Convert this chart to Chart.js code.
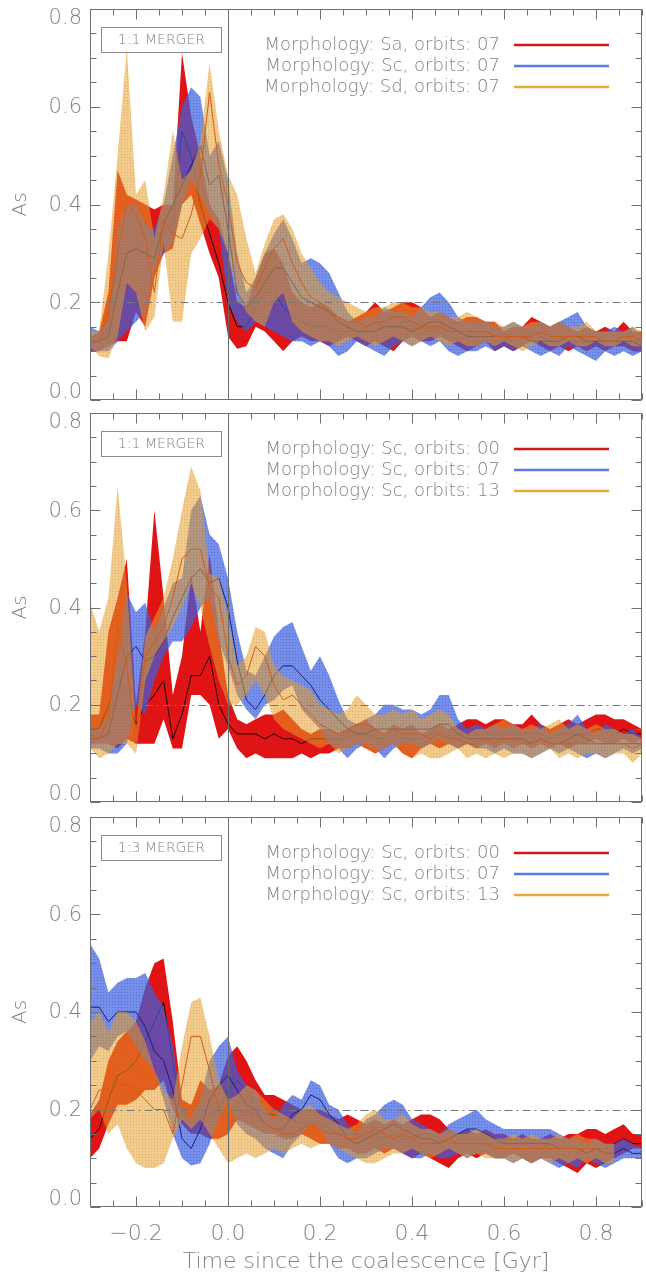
<!DOCTYPE html>
<html><head><meta charset="utf-8">
<script src="https://cdn.jsdelivr.net/npm/chart.js@4.4.0/dist/chart.umd.min.js"></script>
<style>
html,body{margin:0;padding:0;background:#fff;}
#wrap{position:relative;width:646px;height:1274px;overflow:hidden;}
canvas{position:absolute;left:0;}
</style></head>
<body><div id="wrap">
<canvas id="c1" width="646" height="410" style="top:0px"></canvas>
<canvas id="c2" width="646" height="410" style="top:404px"></canvas>
<canvas id="c3" width="646" height="466" style="top:808px"></canvas>
</div>
<script>
// ---- categories (time since coalescence, Gyr) ----
const TIME = [-0.30,-0.28,-0.26,-0.24,-0.22,-0.20,-0.18,-0.16,-0.14,-0.12,-0.10,-0.08,-0.06,-0.04,-0.02,
0.00,0.02,0.04,0.06,0.08,0.10,0.12,0.14,0.16,0.18,0.20,0.22,0.24,0.26,0.28,0.30,0.32,0.34,0.36,0.38,
0.40,0.42,0.44,0.46,0.48,0.50,0.52,0.54,0.56,0.58,0.60,0.62,0.64,0.66,0.68,0.70,0.72,0.74,0.76,0.78,
0.80,0.82,0.84,0.86,0.88,0.90];

// ---- tick labels ----
const Y_TICKS = [0.0,0.2,0.4,0.6,0.8];
const Y_TICK_LABELS = ['0.0','0.2','0.4','0.6','0.8'];
const X_TICKS = [-0.2,0.0,0.2,0.4,0.6,0.8];
const X_TICK_LABELS = ['\u22120.2','0.0','0.2','0.4','0.6','0.8'];
const X_TITLE = 'Time since the coalescence [Gyr]';
const Y_TITLE = 'As';

// ---- panel texts ----
const P1_BOX = '1:1 MERGER';
const P2_BOX = '1:1 MERGER';
const P3_BOX = '1:3 MERGER';
const P1_NAMES = ['Morphology: Sa, orbits: 07','Morphology: Sc, orbits: 07','Morphology: Sd, orbits: 07'];
const P2_NAMES = ['Morphology: Sc, orbits: 00','Morphology: Sc, orbits: 07','Morphology: Sc, orbits: 13'];
const P3_NAMES = ['Morphology: Sc, orbits: 00','Morphology: Sc, orbits: 07','Morphology: Sc, orbits: 13'];

// ================= PANEL 1 =================
const p1RedHi = [0.13,0.14,0.22,0.47,0.42,0.41,0.40,0.39,0.40,0.40,
 0.71,0.58,0.50,0.40,0.37,0.30,0.20,0.19,0.25,0.30,
 0.31,0.28,0.22,0.20,0.19,0.20,0.19,0.17,0.16,0.17,
 0.18,0.20,0.18,0.19,0.20,0.20,0.19,0.17,0.18,0.17,
 0.16,0.17,0.17,0.16,0.16,0.14,0.15,0.15,0.17,0.16,
 0.15,0.16,0.15,0.14,0.15,0.14,0.15,0.14,0.16,0.14,0.14];
const p1RedLo = [0.10,0.10,0.11,0.12,0.12,0.18,0.15,0.25,0.30,0.31,
 0.40,0.42,0.36,0.30,0.25,0.13,0.105,0.11,0.15,0.14,
 0.12,0.10,0.12,0.13,0.12,0.12,0.11,0.12,0.13,0.12,
 0.11,0.12,0.11,0.10,0.12,0.13,0.12,0.12,0.13,0.12,
 0.11,0.10,0.11,0.12,0.10,0.11,0.10,0.11,0.12,0.11,
 0.10,0.11,0.10,0.11,0.10,0.11,0.10,0.11,0.11,0.10,0.10];
const p1RedMed = [0.115,0.12,0.15,0.30,0.30,0.32,0.30,0.33,0.35,0.36,
 0.55,0.50,0.40,0.34,0.28,0.20,0.15,0.15,0.19,0.22,
 0.22,0.19,0.17,0.16,0.15,0.15,0.15,0.14,0.14,0.14,
 0.15,0.16,0.15,0.15,0.16,0.16,0.15,0.14,0.15,0.14,
 0.14,0.13,0.14,0.14,0.13,0.13,0.12,0.13,0.14,0.13,
 0.12,0.13,0.12,0.12,0.12,0.12,0.12,0.12,0.13,0.12,0.12];
const p1BlueHi = [0.15,0.14,0.16,0.35,0.40,0.40,0.36,0.35,0.40,0.50,
 0.60,0.64,0.62,0.50,0.53,0.45,0.30,0.22,0.25,0.30,
 0.34,0.37,0.33,0.28,0.29,0.28,0.26,0.22,0.18,0.16,
 0.17,0.17,0.19,0.18,0.18,0.17,0.19,0.21,0.22,0.20,
 0.17,0.16,0.16,0.16,0.15,0.15,0.16,0.15,0.15,0.16,
 0.15,0.16,0.17,0.18,0.15,0.14,0.14,0.15,0.14,0.15,0.13];
const p1BlueLo = [0.10,0.10,0.10,0.12,0.14,0.16,0.18,0.27,0.30,0.32,
 0.40,0.45,0.42,0.38,0.35,0.20,0.16,0.14,0.16,0.15,
 0.14,0.13,0.12,0.12,0.11,0.12,0.11,0.09,0.10,0.12,
 0.11,0.10,0.09,0.11,0.12,0.11,0.12,0.11,0.12,0.10,
 0.09,0.10,0.10,0.11,0.10,0.11,0.10,0.11,0.10,0.09,
 0.10,0.09,0.11,0.10,0.09,0.08,0.10,0.09,0.10,0.09,0.10];
const p1BlueMed = [0.12,0.12,0.13,0.22,0.30,0.31,0.30,0.29,0.36,0.40,
 0.44,0.48,0.52,0.44,0.46,0.35,0.22,0.19,0.21,0.24,
 0.27,0.27,0.24,0.21,0.20,0.19,0.18,0.16,0.15,0.14,
 0.14,0.14,0.15,0.15,0.15,0.14,0.15,0.16,0.16,0.15,
 0.14,0.13,0.13,0.13,0.13,0.13,0.13,0.13,0.12,0.12,
 0.12,0.12,0.13,0.13,0.12,0.12,0.12,0.12,0.12,0.12,0.11];
const p1OrangeHi = [0.14,0.14,0.30,0.50,0.72,0.42,0.45,0.33,0.42,0.55,
 0.45,0.47,0.53,0.69,0.55,0.46,0.42,0.33,0.26,0.32,
 0.37,0.38,0.35,0.30,0.27,0.24,0.22,0.21,0.20,0.19,
 0.18,0.19,0.19,0.20,0.20,0.19,0.19,0.18,0.18,0.17,
 0.17,0.18,0.17,0.16,0.16,0.15,0.16,0.15,0.16,0.16,
 0.15,0.16,0.15,0.15,0.16,0.14,0.14,0.14,0.14,0.15,0.14];
const p1OrangeLo = [0.11,0.09,0.085,0.13,0.24,0.22,0.14,0.17,0.32,0.16,
 0.16,0.30,0.33,0.37,0.35,0.30,0.22,0.18,0.16,0.15,
 0.20,0.22,0.16,0.14,0.13,0.12,0.12,0.11,0.12,0.13,
 0.12,0.11,0.12,0.13,0.12,0.11,0.12,0.13,0.12,0.11,
 0.12,0.11,0.11,0.12,0.11,0.12,0.11,0.10,0.11,0.12,
 0.11,0.11,0.12,0.11,0.11,0.12,0.11,0.11,0.12,0.11,0.11];
const p1OrangeMed = [0.12,0.12,0.18,0.30,0.40,0.38,0.33,0.22,0.37,0.34,
 0.33,0.38,0.46,0.63,0.48,0.40,0.28,0.24,0.23,0.27,
 0.31,0.33,0.28,0.24,0.21,0.20,0.18,0.17,0.16,0.16,
 0.15,0.16,0.16,0.17,0.17,0.16,0.15,0.15,0.15,0.14,
 0.14,0.14,0.14,0.14,0.13,0.13,0.13,0.13,0.13,0.14,
 0.13,0.13,0.13,0.13,0.13,0.13,0.12,0.12,0.13,0.13,0.12];

// ================= PANEL 2 =================
const p2RedHi = [0.18,0.18,0.35,0.42,0.50,0.20,0.35,0.60,0.42,0.22,
 0.30,0.47,0.35,0.51,0.35,0.22,0.17,0.16,0.17,0.18,
 0.18,0.19,0.17,0.15,0.14,0.15,0.15,0.14,0.15,0.16,
 0.17,0.15,0.14,0.16,0.15,0.16,0.14,0.15,0.16,0.15,
 0.16,0.17,0.17,0.16,0.17,0.17,0.16,0.16,0.18,0.16,
 0.15,0.16,0.17,0.16,0.17,0.18,0.18,0.17,0.17,0.16,0.15];
const p2RedLo = [0.12,0.12,0.12,0.11,0.13,0.12,0.12,0.12,0.17,0.11,
 0.11,0.22,0.22,0.20,0.13,0.15,0.11,0.09,0.10,0.09,
 0.09,0.09,0.09,0.10,0.09,0.10,0.10,0.11,0.11,0.12,
 0.11,0.10,0.11,0.12,0.10,0.09,0.11,0.12,0.11,0.12,
 0.11,0.12,0.11,0.12,0.11,0.12,0.11,0.12,0.11,0.12,
 0.11,0.12,0.11,0.12,0.12,0.13,0.12,0.12,0.13,0.12,0.13];
const p2RedMed = [0.15,0.15,0.20,0.25,0.22,0.16,0.20,0.22,0.25,0.13,
 0.18,0.26,0.26,0.30,0.20,0.16,0.14,0.14,0.14,0.13,
 0.14,0.13,0.13,0.12,0.13,0.13,0.13,0.13,0.13,0.14,
 0.14,0.13,0.13,0.14,0.13,0.13,0.13,0.14,0.14,0.13,
 0.14,0.14,0.14,0.14,0.14,0.14,0.14,0.14,0.14,0.14,
 0.13,0.14,0.14,0.14,0.14,0.15,0.15,0.14,0.15,0.14,0.14];
const p2BlueHi = [0.15,0.15,0.18,0.30,0.43,0.39,0.41,0.35,0.40,0.45,
 0.46,0.60,0.63,0.55,0.53,0.46,0.35,0.27,0.26,0.30,
 0.34,0.36,0.37,0.32,0.27,0.30,0.26,0.21,0.17,0.16,
 0.17,0.18,0.20,0.20,0.19,0.19,0.18,0.19,0.22,0.22,
 0.17,0.15,0.16,0.15,0.16,0.15,0.16,0.15,0.15,0.16,
 0.14,0.15,0.16,0.18,0.15,0.14,0.16,0.15,0.14,0.15,0.13];
const p2BlueLo = [0.11,0.11,0.10,0.10,0.12,0.20,0.18,0.25,0.30,0.33,
 0.33,0.36,0.40,0.42,0.33,0.28,0.22,0.19,0.17,0.20,
 0.21,0.23,0.24,0.19,0.17,0.15,0.12,0.11,0.09,0.11,
 0.12,0.11,0.09,0.11,0.12,0.12,0.11,0.12,0.13,0.12,
 0.11,0.12,0.11,0.11,0.10,0.11,0.10,0.10,0.09,0.10,
 0.11,0.10,0.11,0.10,0.09,0.10,0.09,0.10,0.11,0.10,0.11];
const p2BlueMed = [0.13,0.13,0.14,0.22,0.30,0.32,0.29,0.30,0.33,0.38,
 0.42,0.46,0.48,0.45,0.46,0.40,0.29,0.21,0.19,0.22,
 0.26,0.28,0.28,0.26,0.24,0.21,0.19,0.17,0.15,0.14,
 0.14,0.15,0.15,0.15,0.15,0.15,0.15,0.15,0.16,0.16,
 0.14,0.13,0.13,0.13,0.13,0.13,0.13,0.13,0.12,0.13,
 0.12,0.12,0.13,0.14,0.13,0.12,0.12,0.12,0.12,0.12,0.12];
const p2OrangeHi = [0.41,0.35,0.42,0.65,0.45,0.15,0.34,0.38,0.42,0.50,
 0.60,0.69,0.64,0.47,0.46,0.38,0.28,0.30,0.36,0.35,
 0.28,0.26,0.25,0.24,0.23,0.20,0.19,0.18,0.19,0.22,
 0.20,0.18,0.18,0.19,0.18,0.19,0.17,0.18,0.19,0.18,
 0.15,0.14,0.15,0.15,0.16,0.17,0.16,0.15,0.16,0.15,
 0.16,0.17,0.15,0.16,0.15,0.16,0.15,0.15,0.14,0.14,0.13];
const p2OrangeLo = [0.11,0.09,0.10,0.12,0.12,0.10,0.25,0.30,0.33,0.36,
 0.40,0.45,0.40,0.32,0.25,0.20,0.20,0.22,0.25,0.22,
 0.17,0.15,0.14,0.13,0.12,0.11,0.12,0.10,0.11,0.12,
 0.11,0.10,0.11,0.12,0.10,0.09,0.10,0.09,0.09,0.10,
 0.11,0.09,0.10,0.09,0.10,0.09,0.10,0.10,0.09,0.10,
 0.11,0.09,0.10,0.09,0.10,0.10,0.09,0.10,0.10,0.08,0.10];
const p2OrangeMed = [0.14,0.13,0.17,0.36,0.28,0.12,0.30,0.33,0.36,0.42,
 0.50,0.52,0.52,0.44,0.42,0.30,0.24,0.26,0.32,0.30,
 0.24,0.21,0.22,0.20,0.18,0.16,0.15,0.14,0.15,0.16,
 0.16,0.15,0.14,0.15,0.14,0.14,0.14,0.13,0.14,0.13,
 0.13,0.12,0.12,0.13,0.12,0.13,0.13,0.12,0.12,0.13,
 0.12,0.12,0.12,0.12,0.12,0.12,0.12,0.12,0.12,0.11,0.12];

// ================= PANEL 3 =================
const p3RedHi = [0.19,0.22,0.30,0.34,0.36,0.38,0.45,0.50,0.51,0.38,
 0.22,0.21,0.26,0.24,0.25,0.31,0.33,0.30,0.26,0.23,
 0.23,0.22,0.21,0.20,0.20,0.20,0.19,0.18,0.19,0.18,
 0.17,0.18,0.17,0.18,0.17,0.18,0.19,0.19,0.18,0.16,
 0.15,0.16,0.15,0.16,0.15,0.15,0.14,0.15,0.14,0.14,
 0.15,0.14,0.15,0.15,0.16,0.16,0.15,0.16,0.17,0.15,0.15];
const p3RedLo = [0.10,0.12,0.17,0.21,0.21,0.22,0.24,0.24,0.26,0.20,
 0.17,0.15,0.15,0.14,0.14,0.15,0.18,0.17,0.16,0.15,
 0.15,0.14,0.14,0.15,0.14,0.13,0.13,0.12,0.12,0.11,
 0.11,0.12,0.11,0.12,0.11,0.10,0.11,0.10,0.09,0.08,
 0.10,0.11,0.10,0.11,0.10,0.10,0.11,0.10,0.09,0.10,
 0.10,0.09,0.08,0.07,0.09,0.08,0.09,0.10,0.11,0.12,0.12];
const p3RedMed = [0.14,0.16,0.22,0.27,0.28,0.30,0.34,0.38,0.42,0.30,
 0.19,0.17,0.20,0.19,0.20,0.24,0.26,0.24,0.21,0.19,
 0.19,0.18,0.18,0.17,0.17,0.17,0.16,0.15,0.15,0.15,
 0.14,0.15,0.14,0.15,0.14,0.14,0.15,0.15,0.14,0.13,
 0.13,0.13,0.13,0.13,0.13,0.13,0.13,0.13,0.12,0.12,
 0.13,0.12,0.12,0.12,0.12,0.12,0.12,0.13,0.14,0.13,0.13];
const p3BlueHi = [0.54,0.51,0.44,0.46,0.47,0.47,0.48,0.44,0.41,0.33,
 0.20,0.18,0.22,0.30,0.33,0.35,0.28,0.25,0.24,0.20,
 0.18,0.21,0.23,0.22,0.26,0.25,0.21,0.20,0.17,0.15,
 0.18,0.19,0.21,0.22,0.21,0.18,0.17,0.16,0.15,0.17,
 0.18,0.19,0.20,0.18,0.17,0.16,0.16,0.16,0.16,0.16,
 0.16,0.15,0.14,0.14,0.13,0.14,0.13,0.13,0.14,0.13,0.12];
const p3BlueLo = [0.30,0.33,0.32,0.35,0.36,0.33,0.30,0.28,0.22,0.15,
 0.10,0.085,0.09,0.13,0.18,0.22,0.17,0.15,0.14,0.12,
 0.11,0.10,0.13,0.15,0.17,0.16,0.13,0.10,0.09,0.10,
 0.10,0.11,0.12,0.12,0.11,0.10,0.10,0.11,0.10,0.10,
 0.11,0.10,0.11,0.11,0.10,0.10,0.09,0.10,0.09,0.10,
 0.09,0.08,0.09,0.08,0.10,0.09,0.08,0.09,0.10,0.10,0.10];
const p3BlueMed = [0.41,0.41,0.38,0.40,0.40,0.40,0.37,0.32,0.30,0.24,
 0.14,0.12,0.16,0.22,0.25,0.27,0.24,0.21,0.20,0.17,
 0.16,0.16,0.19,0.20,0.23,0.22,0.19,0.17,0.14,0.13,
 0.14,0.15,0.16,0.17,0.16,0.15,0.14,0.14,0.13,0.14,
 0.15,0.16,0.16,0.15,0.14,0.13,0.13,0.13,0.13,0.13,
 0.13,0.12,0.12,0.12,0.11,0.12,0.11,0.11,0.12,0.11,0.11];
const p3OrangeHi = [0.38,0.40,0.36,0.40,0.40,0.38,0.34,0.28,0.24,0.22,
 0.33,0.42,0.43,0.35,0.26,0.22,0.23,0.25,0.24,0.22,
 0.20,0.19,0.18,0.20,0.21,0.19,0.18,0.17,0.16,0.17,
 0.19,0.20,0.18,0.18,0.19,0.17,0.16,0.16,0.15,0.16,
 0.15,0.15,0.16,0.15,0.14,0.14,0.15,0.14,0.15,0.14,
 0.14,0.15,0.14,0.15,0.14,0.14,0.13,0.13,null,null,null];
const p3OrangeLo = [0.18,0.20,0.15,0.17,0.12,0.09,0.08,0.08,0.09,0.14,
 0.18,0.16,0.18,0.15,0.12,0.09,0.10,0.11,0.10,0.11,
 0.12,0.11,0.12,0.13,0.12,0.13,0.13,0.12,0.11,0.10,
 0.09,0.09,0.10,0.11,0.11,0.12,0.11,0.10,0.11,0.12,
 0.11,0.10,0.11,0.10,0.10,0.10,0.09,0.10,0.09,0.10,
 0.09,0.10,0.09,0.10,0.09,0.10,0.09,0.09,null,null,null];
const p3OrangeMed = [0.20,0.24,0.24,0.25,0.25,0.24,0.22,0.20,0.20,0.15,
 0.25,0.35,0.35,0.28,0.20,0.17,0.18,0.20,0.19,0.17,
 0.16,0.15,0.15,0.16,0.17,0.16,0.15,0.15,0.14,0.14,
 0.15,0.16,0.15,0.14,0.15,0.14,0.13,0.13,0.13,0.14,
 0.13,0.13,0.13,0.13,0.12,0.12,0.12,0.12,0.12,0.12,
 0.12,0.12,0.12,0.12,0.12,0.12,0.11,0.11,null,null,null];

// ---- styles ----
function dotted(base, dot){
  const c = document.createElement('canvas'); c.width = 3; c.height = 3;
  const g = c.getContext('2d');
  g.fillStyle = base; g.fillRect(0,0,3,3);
  g.clearRect(1,1,1,1); g.fillStyle = dot; g.fillRect(1,1,1,1);
  return g.createPattern(c,'repeat');
}
const FILL_RED = 'rgb(224,20,20)';
const FILL_BLUE = dotted('rgba(60,95,222,0.70)','rgba(55,85,215,0.85)');
const FILL_ORANGE = dotted('rgba(230,160,40,0.54)','rgba(215,125,35,0.66)');
const MED_COLORS = ['#1a0505','#1c1c7a','#d45a18'];
const LEG_COLORS = ['#d01818','#5b7be0','#e8a840'];
const TXT = '#828282';
const FONT = "'DejaVu Sans', 'Liberation Sans', sans-serif";
const FW = '200 ';

function pts(arr){ return TIME.map((t,i)=>({x:t, y:arr[i]})); }

const deco = {
  id:'deco',
  afterDatasetsDraw(chart){
    const o = chart.options.plugins.deco;
    const ctx = chart.ctx, a = chart.chartArea, xs = chart.scales.x, ys = chart.scales.y;
    const X = v => xs.getPixelForValue(v), Y = v => ys.getPixelForValue(v);
    const L = Math.round(a.left)+0.5, R = Math.round(a.right)-0.5, T = Math.round(a.top)+0.5, B = Math.round(a.bottom)-0.5;
    ctx.save();
    ctx.lineWidth = 1; ctx.strokeStyle = '#6a6a6a';
    const x0 = Math.round(X(0))+0.5;
    ctx.beginPath(); ctx.moveTo(x0,T); ctx.lineTo(x0,B); ctx.stroke();
    const y2 = Math.round(Y(0.2))+0.5;
    ctx.strokeStyle = '#777'; ctx.setLineDash([8,4,2,4]);
    ctx.beginPath(); ctx.moveTo(L,y2); ctx.lineTo(R,y2); ctx.stroke();
    ctx.setLineDash([]);
    ctx.strokeStyle = '#707070';
    ctx.strokeRect(L,T,R-L,B-T);
    ctx.beginPath();
    for(let i=0;i<=24;i++){
      const v = -0.3 + i*0.05; const p = Math.round(X(v))+0.5;
      const q = v/0.2; const major = Math.abs(q-Math.round(q))<1e-6;
      const len = major?10:6;
      ctx.moveTo(p,T); ctx.lineTo(p,T+len); ctx.moveTo(p,B); ctx.lineTo(p,B-len);
    }
    for(let i=0;i<=16;i++){
      const v = i*0.05; const p = Math.round(Y(v))+0.5;
      const len = (i%4===0)?10:6;
      ctx.moveTo(L,p); ctx.lineTo(L+len,p); ctx.moveTo(R,p); ctx.lineTo(R-len,p);
    }
    ctx.stroke();
    ctx.fillStyle = TXT; ctx.font = FW+'21px '+FONT; ctx.textAlign='right'; ctx.textBaseline='middle';
    Y_TICKS.forEach((v,i)=>{
      let p = Y(v); p = Math.min(Math.max(p, a.top+9), a.bottom-8);
      ctx.fillText(Y_TICK_LABELS[i], a.left-8, p+1);
    });
    ctx.save(); ctx.translate(21,(a.top+a.bottom)/2); ctx.rotate(-Math.PI/2);
    ctx.textAlign='center'; ctx.font=FW+'20px '+FONT; ctx.fillText(Y_TITLE,0,0); ctx.restore();
    ctx.strokeStyle = '#8a8a8a'; ctx.lineWidth=1;
    ctx.strokeRect(Math.round(a.left)+11.5, Math.round(a.top)+18.5, 120, 25);
    ctx.font=FW+'14px '+FONT; ctx.textAlign='center'; ctx.fillStyle=TXT;
    ctx.fillText(o.box, Math.round(a.left)+71.5, Math.round(a.top)+31.5);
    ctx.font=FW+'18px '+FONT; ctx.textAlign='right';
    o.names.forEach((n,i)=>{
      const yy = a.top+36+i*21;
      ctx.fillStyle=TXT; ctx.fillText(n, 500, yy);
      ctx.strokeStyle = LEG_COLORS[i]; ctx.lineWidth=2.5;
      ctx.beginPath(); ctx.moveTo(514,yy); ctx.lineTo(609,yy); ctx.stroke();
    });
    if(o.showX){
      ctx.fillStyle=TXT; ctx.font=FW+'22px '+FONT; ctx.textAlign='center'; ctx.textBaseline='middle';
      X_TICKS.forEach((v,i)=>{ ctx.fillText(X_TICK_LABELS[i], X(v), a.bottom+27); });
      ctx.fillText(X_TITLE, (a.left+a.right)/2, a.bottom+55);
    }
    ctx.restore();
  }
};

function makePanel(id, bands, meds, names, box, padBottom, showX){
  const ds = [];
  const fills = [FILL_RED, FILL_BLUE, FILL_ORANGE];
  bands.forEach((b,i)=>{
    const ord = 3 - i;   // red drawn first, orange last
    ds.push({data:pts(meds[i]), fill:false, borderColor:MED_COLORS[i], borderWidth:1, pointRadius:0, order:ord, spanGaps:false});
    ds.push({data:pts(b[1]), fill:'+1', backgroundColor:fills[i], borderColor:'rgba(0,0,0,0)', borderWidth:0, pointRadius:0, order:ord, spanGaps:false});
    ds.push({data:pts(b[0]), fill:false, borderColor:'rgba(0,0,0,0)', borderWidth:0, pointRadius:0, order:ord, spanGaps:false});
  });
  return new Chart(document.getElementById(id), {
    type:'line',
    data:{datasets:ds},
    options:{
      responsive:false, animation:false,
      layout:{padding:{left:90,right:4,top:9,bottom:padBottom}},
      scales:{
        x:{type:'linear', min:-0.3, max:0.9, display:false},
        y:{type:'linear', min:0, max:0.8, display:false}
      },
      plugins:{legend:{display:false}, tooltip:{enabled:false},
        deco:{box:box, names:names, showX:showX}},
      elements:{line:{tension:0}}
    },
    plugins:[deco]
  });
}

makePanel('c1', [[p1RedLo,p1RedHi],[p1BlueLo,p1BlueHi],[p1OrangeLo,p1OrangeHi]],
  [p1RedMed,p1BlueMed,p1OrangeMed], P1_NAMES, P1_BOX, 10, false);
makePanel('c2', [[p2RedLo,p2RedHi],[p2BlueLo,p2BlueHi],[p2OrangeLo,p2OrangeHi]],
  [p2RedMed,p2BlueMed,p2OrangeMed], P2_NAMES, P2_BOX, 12, false);
makePanel('c3', [[p3RedLo,p3RedHi],[p3BlueLo,p3BlueHi],[p3OrangeLo,p3OrangeHi]],
  [p3RedMed,p3BlueMed,p3OrangeMed], P3_NAMES, P3_BOX, 67, true);
</script>
</body></html>
